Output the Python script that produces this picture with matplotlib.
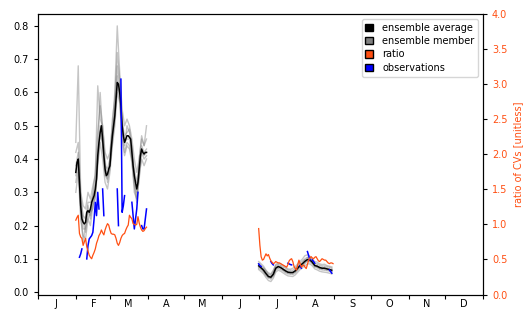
import matplotlib
matplotlib.use("Agg")
import matplotlib.pyplot as plt
import matplotlib.dates as mdates
from matplotlib.patches import Patch
import numpy as np

nan = np.nan

# daily dates of the two periods
win_days = np.arange("2019-02-01", "2019-04-01", dtype="datetime64[D]")
sum_days = np.arange("2019-07-01", "2019-09-01", dtype="datetime64[D]")
win_days2 = win_days[::2]  # ensemble output every 2nd day
sum_days2 = sum_days[::2]

# winter (Feb-Mar)
win_avg = [0.36, 0.39, 0.40, 0.33, 0.26, 0.22, 0.21, 0.205, 0.21, 0.24,
           0.245, 0.24, 0.25, 0.27, 0.28, 0.29, 0.31, 0.34, 0.41, 0.45,
           0.48, 0.50, 0.46, 0.41, 0.37, 0.35, 0.355, 0.37, 0.38, 0.43,
           0.47, 0.50, 0.53, 0.58, 0.63, 0.625, 0.60, 0.56, 0.50, 0.47,
           0.45, 0.46, 0.47, 0.47, 0.465, 0.46, 0.42, 0.38, 0.35, 0.33,
           0.31, 0.33, 0.37, 0.41, 0.43, 0.42, 0.415, 0.42, 0.42]
win_members = [
    [0.45, 0.68, 0.30, 0.22, 0.18, 0.26, 0.22, 0.30, 0.36, 0.48, 0.56, 0.50, 0.40, 0.33, 0.40,
     0.52, 0.58, 0.72, 0.64, 0.52, 0.44, 0.50, 0.48, 0.44, 0.33, 0.28, 0.40, 0.47, 0.44, 0.46],
    [0.30, 0.36, 0.22, 0.17, 0.16, 0.22, 0.20, 0.26, 0.28, 0.38, 0.45, 0.40, 0.33, 0.31, 0.36,
     0.44, 0.50, 0.60, 0.57, 0.46, 0.41, 0.44, 0.43, 0.39, 0.32, 0.27, 0.35, 0.40, 0.38, 0.40],
    [0.42, 0.45, 0.30, 0.26, 0.25, 0.30, 0.28, 0.32, 0.35, 0.62, 0.52, 0.50, 0.42, 0.40, 0.42,
     0.50, 0.60, 0.80, 0.66, 0.55, 0.50, 0.52, 0.50, 0.46, 0.40, 0.36, 0.40, 0.46, 0.44, 0.50],
    [0.33, 0.38, 0.24, 0.15, 0.20, 0.22, 0.24, 0.25, 0.30, 0.40, 0.50, 0.44, 0.35, 0.34, 0.37,
     0.46, 0.55, 0.65, 0.58, 0.48, 0.42, 0.45, 0.44, 0.40, 0.30, 0.28, 0.34, 0.42, 0.40, 0.41],
    [0.38, 0.42, 0.28, 0.23, 0.22, 0.27, 0.27, 0.29, 0.33, 0.44, 0.60, 0.47, 0.38, 0.37, 0.40,
     0.48, 0.56, 0.68, 0.62, 0.51, 0.47, 0.48, 0.49, 0.43, 0.37, 0.33, 0.38, 0.44, 0.42, 0.43],
    [0.35, 0.40, 0.25, 0.19, 0.19, 0.24, 0.23, 0.27, 0.29, 0.39, 0.47, 0.45, 0.36, 0.35, 0.38,
     0.45, 0.52, 0.62, 0.59, 0.49, 0.45, 0.46, 0.46, 0.41, 0.34, 0.30, 0.36, 0.43, 0.41, 0.42],
]
win_obs = [nan, nan, nan, 0.105, 0.115, 0.13, nan, nan, nan,
           0.10, 0.14, 0.16, 0.165, 0.17, 0.18, 0.22, 0.27, 0.23, 0.30, 0.25,
           nan, nan, 0.31, 0.23,
           nan, nan, nan, nan, nan, nan, nan, nan, nan, nan,
           0.31, 0.20, nan, 0.64, 0.24, 0.26, 0.29,
           nan, nan, nan, nan, nan,
           0.27, 0.23, 0.19, 0.22, 0.25, 0.30, nan, nan,
           0.20, 0.19, 0.19, 0.22, 0.25]
win_ratio = [1.06, 1.10, 1.13, 0.87, 0.82, 0.80, 0.70, 0.75, 0.80, 0.68,
             0.62, 0.56, 0.53, 0.51, 0.56, 0.60, 0.65, 0.73, 0.78, 0.84,
             0.87, 0.92, 0.88, 0.85, 0.92, 0.97, 1.01, 0.99, 0.92, 0.87,
             0.86, 0.86, 0.85, 0.80, 0.73, 0.70, 0.74, 0.80, 0.84, 0.86,
             0.87, 0.92, 0.96, 0.99, 1.13, 1.10, 1.08, 1.01, 1.00, 0.99,
             1.00, 1.11, 1.02, 0.96, 0.92, 0.90, 0.91, 0.94, 0.96]

# summer (Jul-Aug)
sum_avg = [0.079, 0.073, 0.066, 0.056, 0.047, 0.045, 0.054, 0.072, 0.077, 0.074,
           0.069, 0.064, 0.060, 0.059, 0.059, 0.064, 0.072, 0.080, 0.086, 0.093,
           0.098, 0.097, 0.090, 0.080, 0.078, 0.074, 0.072, 0.072, 0.070, 0.068, 0.066]
sum_members = [
    [0.092, 0.085, 0.078, 0.066, 0.058, 0.055, 0.066, 0.083, 0.088, 0.086, 0.080, 0.075, 0.070, 0.069, 0.072, 0.077,
     0.085, 0.093, 0.100, 0.110, 0.112, 0.108, 0.100, 0.092, 0.090, 0.085, 0.083, 0.084, 0.080, 0.078, 0.076],
    [0.068, 0.062, 0.055, 0.044, 0.035, 0.032, 0.042, 0.060, 0.066, 0.063, 0.058, 0.053, 0.049, 0.048, 0.047, 0.052,
     0.060, 0.068, 0.074, 0.080, 0.085, 0.085, 0.079, 0.070, 0.067, 0.063, 0.061, 0.060, 0.059, 0.057, 0.055],
    [0.085, 0.070, 0.072, 0.060, 0.052, 0.040, 0.058, 0.078, 0.072, 0.080, 0.065, 0.068, 0.056, 0.063, 0.055, 0.068,
     0.078, 0.076, 0.090, 0.098, 0.092, 0.104, 0.086, 0.084, 0.074, 0.078, 0.068, 0.076, 0.066, 0.072, 0.062],
    [0.074, 0.078, 0.062, 0.052, 0.044, 0.050, 0.050, 0.068, 0.082, 0.070, 0.073, 0.060, 0.064, 0.055, 0.063, 0.060,
     0.068, 0.084, 0.082, 0.088, 0.104, 0.092, 0.094, 0.077, 0.082, 0.070, 0.076, 0.068, 0.074, 0.064, 0.070],
    [0.086, 0.080, 0.073, 0.064, 0.054, 0.052, 0.062, 0.080, 0.084, 0.081, 0.076, 0.072, 0.067, 0.066, 0.066, 0.071,
     0.079, 0.088, 0.094, 0.100, 0.105, 0.104, 0.097, 0.087, 0.085, 0.081, 0.079, 0.079, 0.077, 0.075, 0.073],
    [0.072, 0.068, 0.060, 0.050, 0.042, 0.040, 0.048, 0.066, 0.071, 0.068, 0.064, 0.058, 0.055, 0.054, 0.053, 0.058,
     0.066, 0.074, 0.080, 0.087, 0.093, 0.091, 0.085, 0.075, 0.073, 0.069, 0.067, 0.066, 0.065, 0.063, 0.061],
]
sum_obs = [0.085, 0.080, 0.077, nan, nan, nan, nan, nan, nan, nan,
           0.092, 0.086, 0.082,
           nan, nan, nan, nan, nan, nan, nan, nan, nan, nan, nan,
           0.087, 0.085, 0.083, 0.082,
           nan, nan, nan, nan, nan, nan,
           0.079, 0.072, nan, nan, nan, nan,
           0.122, 0.110, 0.097, nan, 0.097, 0.092, 0.087,
           nan, nan, nan, nan, nan, nan, nan, nan, nan, nan, nan,
           0.067, 0.062, 0.057, nan]
sum_ratio = [0.94, 0.70, 0.54, 0.49, 0.50, 0.54, 0.58, 0.55, 0.57, 0.52,
             0.48, 0.46, 0.44, 0.45, 0.47, 0.46, 0.45, 0.45, 0.44, 0.43,
             0.42, 0.41, 0.40, 0.39, 0.43, 0.48, 0.50, 0.51, 0.47, 0.40,
             0.37, 0.35, 0.42, 0.49, 0.44, 0.39, 0.41, 0.42, 0.39, 0.37,
             0.43, 0.49, 0.52, 0.54, 0.52, 0.51, 0.53, 0.54, 0.51, 0.48,
             0.47, 0.49, 0.51, 0.50, 0.49, 0.49, 0.47, 0.45, 0.44, 0.45,
             0.45, 0.44]

ratio_col = "#ff4f12"
fs = 7

fig = plt.figure(figsize=(5.25, 3.16), dpi=100)
ax = fig.add_axes([0.0724, 0.068, 0.8476, 0.888])
ax2 = ax.twinx()

for m in win_members:
    ax.plot(win_days2, m, color="gray", alpha=0.45, lw=1.0)
for m in sum_members:
    ax.plot(sum_days2, m, color="gray", alpha=0.45, lw=1.0)
ax.plot(win_days, win_avg, color="k", lw=1.1)
ax.plot(sum_days2, sum_avg, color="k", lw=1.1)
ax.plot(win_days, win_obs, color="blue", lw=1.1)
ax.plot(sum_days, sum_obs, color="blue", lw=1.1)

ax2.plot(win_days, win_ratio, color=ratio_col, lw=0.9)
ax2.plot(sum_days, sum_ratio, color=ratio_col, lw=0.9)

ax.set_xlim(np.datetime64("2019-01-01"), np.datetime64("2020-01-01"))
ax.set_ylim(-0.007, 0.836)
ax.set_yticks(np.arange(0, 0.81, 0.1))
ax2.set_ylim(0, 4)
ax2.set_yticks(np.arange(0, 4.01, 0.5))

ax.xaxis.set_major_locator(mdates.MonthLocator())
ax.xaxis.set_major_formatter(plt.NullFormatter())
ax.xaxis.set_minor_locator(mdates.MonthLocator(bymonthday=16))
ax.xaxis.set_minor_formatter(
    plt.FuncFormatter(lambda x, p: mdates.num2date(x).strftime("%b")[0]))
ax.tick_params(axis="x", which="major", length=3)
ax.tick_params(axis="x", which="minor", length=0, labelsize=fs)
ax.tick_params(axis="y", labelsize=fs, length=3)
ax2.tick_params(axis="y", labelsize=fs, length=3, labelcolor=ratio_col)
ax2.set_ylabel("ratio of CVs [unitless]", color=ratio_col, fontsize=fs)

handles = [Patch(facecolor="k", edgecolor="k", label="ensemble average"),
           Patch(facecolor="gray", edgecolor="k", label="ensemble member"),
           Patch(facecolor=ratio_col, edgecolor="k", label="ratio"),
           Patch(facecolor="blue", edgecolor="k", label="observations")]
ax2.legend(handles=handles, loc="upper right", fontsize=fs,
           handlelength=0.8, handleheight=0.8, handletextpad=0.9,
           borderaxespad=0.5, labelspacing=0.35)

plt.savefig("out.png", dpi=100)
